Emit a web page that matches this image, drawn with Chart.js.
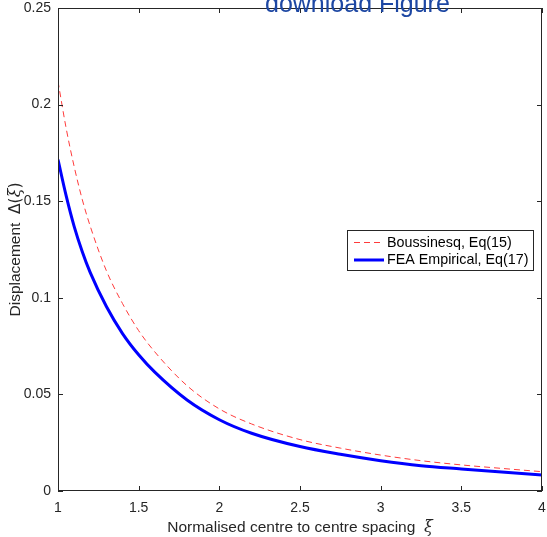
<!DOCTYPE html>
<html>
<head>
<meta charset="utf-8">
<script src="https://cdn.jsdelivr.net/npm/chart.js@4.4.1/dist/chart.umd.min.js"></script>
<style>
  html, body { margin: 0; padding: 0; background: #ffffff; }
  #wrap { position: relative; width: 547px; height: 537px; overflow: hidden; }
  #c { position: absolute; left: 0; top: 0; }
  #dl { position: absolute; left: 265px; top: -12px; font-family: "Liberation Sans", Arial, sans-serif;
        font-size: 25px; color: #1d47a3; white-space: nowrap; line-height: 30px; }
</style>
</head>
<body>
<div id="wrap">
  <canvas id="c" width="547" height="537"></canvas>
  <div id="dl">download Figure</div>
</div>
<script>
// ---- data ----
const xi = [1.00, 1.05, 1.10, 1.15, 1.20, 1.30, 1.40, 1.50, 1.60, 1.80, 2.00, 2.20, 2.50, 2.75, 3.00, 3.25, 3.50, 3.75, 4.00];
const boussinesq = [0.212, 0.188, 0.168, 0.151, 0.137, 0.114, 0.097, 0.083, 0.072, 0.0545, 0.0425, 0.0347, 0.0266, 0.0222, 0.0186, 0.0157, 0.0135, 0.0117, 0.0100];
const feaEmpirical = [0.1715, 0.153, 0.137, 0.124, 0.113, 0.0955, 0.0815, 0.0705, 0.0615, 0.0471, 0.0369, 0.0299, 0.0230, 0.0190, 0.0157, 0.0131, 0.0114, 0.0098, 0.0083];
const seriesNames = ["Boussinesq, Eq(15)", "FEA Empirical, Eq(17)"];
const xTickValues = [1, 1.5, 2, 2.5, 3, 3.5, 4];
const xTickLabels = ["1", "1.5", "2", "2.5", "3", "3.5", "4"];
const yTickValues = [0, 0.05, 0.1, 0.15, 0.2, 0.25];
const yTickLabels = ["0", "0.05", "0.1", "0.15", "0.2", "0.25"];
const xTitle = "Normalised centre to centre spacing";
const yTitle = "Displacement";

const FONT = '"Liberation Sans", Arial, Helvetica, sans-serif';
const AX = '#262626';
const FS = 14;    // tick labels
const FT = 15.5;  // axis titles

function labelFor(values, labels, v) {
  for (let i = 0; i < values.length; i++) if (Math.abs(values[i] - v) < 1e-9) return labels[i];
  return '';
}

const framePlugin = {
  id: 'frame',
  afterDatasetsDraw(chart) {
    const ctx = chart.ctx, a = chart.chartArea;
    const xs = chart.scales.x, ys = chart.scales.y;
    ctx.save();
    ctx.strokeStyle = AX;
    ctx.lineWidth = 1;
    ctx.strokeRect(a.left + 0.5, a.top + 0.5, a.right - a.left - 1, a.bottom - a.top - 1);
    const tl = 5;
    ctx.beginPath();
    xTickValues.forEach(v => {
      const px = Math.round(xs.getPixelForValue(v)) + 0.5;
      ctx.moveTo(px, a.bottom); ctx.lineTo(px, a.bottom - tl);
      ctx.moveTo(px, a.top); ctx.lineTo(px, a.top + tl);
    });
    yTickValues.forEach(v => {
      const py = Math.round(ys.getPixelForValue(v)) + 0.5;
      ctx.moveTo(a.left, py); ctx.lineTo(a.left + tl, py);
      ctx.moveTo(a.right, py); ctx.lineTo(a.right - tl, py);
    });
    ctx.stroke();

    // axis titles
    ctx.fillStyle = AX;
    ctx.textBaseline = 'alphabetic';
    const f = FT + 'px ' + FONT, fi = 'italic ' + (FT + 0.5) + 'px "DejaVu Serif", serif';
    const fd = FT + 'px "DejaVu Sans", sans-serif';
    // x title
    ctx.font = f;
    const w1 = ctx.measureText(xTitle + '  ').width;
    ctx.font = fi;
    const w2 = ctx.measureText('ξ').width;
    let x0 = (a.left + a.right) / 2 - (w1 + w2) / 2;
    ctx.font = f; ctx.textAlign = 'left';
    ctx.fillText(xTitle + '  ', x0, 532);
    ctx.font = fi;
    ctx.fillText('ξ', x0 + w1, 532);
    // y title (rotated)
    ctx.save();
    ctx.translate(19.5, (a.top + a.bottom) / 2);
    ctx.rotate(-Math.PI / 2);
    ctx.font = f;
    const t1 = yTitle + '  ';
    const u1 = ctx.measureText(t1).width;
    ctx.font = fd;
    const u2 = ctx.measureText('Δ(').width;
    ctx.font = fi;
    const u3 = ctx.measureText('ξ').width;
    ctx.font = fd;
    const u4 = ctx.measureText(')').width;
    let s = -(u1 + u2 + u3 + u4) / 2;
    ctx.font = f; ctx.fillText(t1, s, 0); s += u1;
    ctx.font = fd; ctx.fillText('Δ(', s, 0); s += u2;
    ctx.font = fi; ctx.fillText('ξ', s, 0); s += u3;
    ctx.font = fd; ctx.fillText(')', s, 0);
    ctx.restore();

    // legend box
    const lx = 347, ly = 230, lw = 186, lh = 40;
    ctx.fillStyle = '#ffffff';
    ctx.fillRect(lx, ly, lw, lh);
    ctx.strokeStyle = '#262626';
    ctx.lineWidth = 1;
    ctx.strokeRect(lx + 0.5, ly + 0.5, lw, lh);
    chart.data.datasets.forEach((ds, i) => {
      const yy = ly + 12.5 + i * 17.5;
      ctx.beginPath();
      ctx.strokeStyle = ds.borderColor;
      ctx.lineWidth = ds.borderWidth;
      ctx.setLineDash(ds.borderDash || []);
      ctx.moveTo(lx + 7, yy); ctx.lineTo(lx + 37, yy);
      ctx.stroke();
      ctx.setLineDash([]);
      ctx.fillStyle = '#000000';
      ctx.font = '14.3px ' + FONT;
      ctx.textAlign = 'left';
      ctx.textBaseline = 'middle';
      ctx.fillText(ds.label, lx + 40, yy + 0.5);
    });
    ctx.restore();
  }
};

new Chart(document.getElementById('c'), {
  type: 'line',
  data: {
    datasets: [
      {
        label: seriesNames[0],
        data: xi.map((x, i) => ({ x: x, y: boussinesq[i] })),
        borderColor: '#ff3b3b',
        borderWidth: 1,
        borderDash: [6, 4],
        pointRadius: 0,
        fill: false,
        cubicInterpolationMode: 'monotone'
      },
      {
        label: seriesNames[1],
        data: xi.map((x, i) => ({ x: x, y: feaEmpirical[i] })),
        borderColor: '#0000ff',
        borderWidth: 3,
        pointRadius: 0,
        fill: false,
        cubicInterpolationMode: 'monotone'
      }
    ]
  },
  options: {
    responsive: false,
    animation: false,
    devicePixelRatio: 1,
    layout: { padding: { top: 8, right: 5, left: 0, bottom: 0 } },
    plugins: { legend: { display: false }, tooltip: { enabled: false } },
    scales: {
      x: {
        type: 'linear', min: 1, max: 4,
        afterFit(s) { s.height = 46; s.paddingLeft = 0; s.paddingRight = 0; },
        afterBuildTicks(s) { s.ticks = xTickValues.map(v => ({ value: v })); },
        grid: { display: false, drawTicks: false },
        border: { display: false },
        ticks: {
          padding: 9, color: AX, font: { family: FONT, size: FS }, maxRotation: 0,
          callback: v => labelFor(xTickValues, xTickLabels, v)
        }
      },
      y: {
        type: 'linear', min: 0, max: 0.25,
        afterFit(s) { s.width = 58; s.paddingTop = 0; s.paddingBottom = 0; },
        afterBuildTicks(s) { s.ticks = yTickValues.map(v => ({ value: v })); },
        grid: { display: false, drawTicks: false },
        border: { display: false },
        ticks: {
          padding: 7, color: AX, font: { family: FONT, size: FS },
          callback: v => labelFor(yTickValues, yTickLabels, v)
        }
      }
    }
  },
  plugins: [framePlugin]
});
</script>
</body>
</html>
